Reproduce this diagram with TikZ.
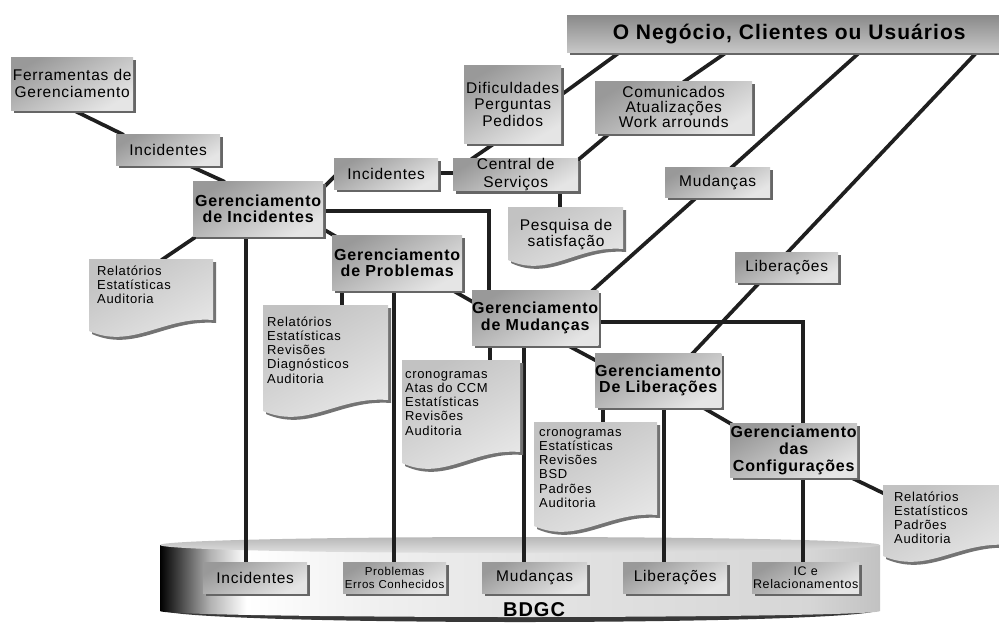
\documentclass[tikz,border=0pt]{standalone}
\usepackage{fontspec}
\setmainfont{Liberation Sans}[LetterSpace=5]
\usetikzlibrary{shadows,calc}
\pgfdeclarelayer{back}\pgfdeclarelayer{mid}\pgfsetlayers{back,mid,main}
\pgfdeclarehorizontalshading{cylside}{100bp}{color(0bp)=(black); color(25bp)=(black); color(26.5bp)=(black!70); color(28.5bp)=(black!30); color(31bp)=(white); color(40bp)=(black!6); color(55bp)=(black!12); color(70bp)=(black!16); color(75bp)=(black!24); color(100bp)=(black!24)}
\newcommand\flab{\fontsize{15.5}{16.5}\selectfont}
\newcommand\fbld{\fontsize{16}{16.5}\selectfont\bfseries}
\newcommand\fsml{\fontsize{11.5}{12.5}\selectfont}
\newcommand\fdoc{\fontsize{13}{14.2}\selectfont}
\newcommand\ftop{\fontsize{21}{22}\selectfont\bfseries}
\newcommand\bx[7][]{\node[box,#1,anchor=north west,minimum width={(#5-#3)*1pt},minimum height={(#6-#4)*1pt}] (#2) at (#3,#4) {#7};}
\newcommand\dc[5]{%
 \begin{scope}[shift={(#2,#3)}]
  \path[docst] (0,0) -- (#4,0) -- (#4,{#5-18}) .. controls ({0.6*#4},{#5-22}) and ({0.35*#4},{#5+12}) .. (0,{#5-7}) -- cycle;
  \node[anch,minimum width={#4*1pt},minimum height={#5*1pt},anchor=north west] (#1) at (0,0) {};
 \end{scope}}
\tikzset{
 box/.style={draw=none, top color=black!40, bottom color=black!10, shading angle=30, drop shadow={shadow xshift=3pt, shadow yshift=-3pt, fill=black!60, opacity=1}, inner sep=0pt, align=center, font=\flab},
 gbox/.style={font=\fbld},
 sbox/.style={font=\fsml},
 topbox/.style={top color=black!46, bottom color=black!22, shading angle=0, font=\ftop},
 docst/.style={top color=black!24, bottom color=black!9, shading angle=30, drop shadow={shadow xshift=3pt,shadow yshift=-3pt,fill=black!55,opacity=1}},
 doctext/.style={inner sep=0pt, align=left, font=\fdoc, anchor=north west},
 conn/.style={line width=3.7pt, draw=black!88, shorten <=-2pt, shorten >=-2pt},
 anch/.style={inner sep=0pt, draw=none},
}
\begin{document}
\begin{tikzpicture}[x=1pt,y=-1pt]
\useasboundingbox (0,0) rectangle (999,625);
% cylinder
\begin{pgfonlayer}{back}
\fill[black!78] (163,610) arc[start angle=180,end angle=0,x radius=357,y radius=12] -- cycle;
\shade[shading=cylside] (160,545) -- (160,611) arc[start angle=180,end angle=0,x radius=360,y radius=6] -- (880,545) -- cycle;
\shade[top color=black!28, bottom color=black!12] (520,545) ellipse[x radius=360, y radius=8];
\end{pgfonlayer}
\node[font=\fontsize{20}{20}\selectfont\bfseries, inner sep=0pt] (bdgc) at (534,610) {BDGC};
% boxes
\bx[topbox]{top}{567}{15}{1011}{52}{O Negócio, Clientes ou Usuários}
\bx{fer}{11}{57}{133}{110}{Ferramentas de\\Gerenciamento}
\bx{incA}{116}{134}{220}{165}{Incidentes}
\bx[gbox]{gi}{193}{181}{323}{236}{Gerenciamento\\de Incidentes}
\bx{incB}{334}{158}{438}{189}{Incidentes}
\bx[font=\fontsize{15.5}{18}\selectfont]{cen}{453}{158}{578}{190}{Central de\\Serviços}
\bx{dif}{464}{65}{561}{143}{Dificuldades\\Perguntas\\Pedidos}
\bx[font=\fontsize{15.5}{15}\selectfont]{com}{595}{81}{752}{133}{Comunicados\\Atualizações\\Work arrounds}
\bx{mudR}{665}{167}{770}{197}{Mudanças}
\bx{libR}{735}{252}{838}{282}{Liberações}
\bx[gbox]{gp}{332}{235}{462}{290}{Gerenciamento\\de Problemas}
\bx[gbox]{gm}{472}{290}{597}{345}{Gerenciamento\\de Mudanças}
\bx[gbox]{gl}{595}{353}{719}{407}{Gerenciamento\\De Liberações}
\bx[gbox,font=\fontsize{16}{17}\selectfont\bfseries]{gc}{730}{423}{857}{477}{Gerenciamento\\das\\Configurações}
\bx{bInc}{203}{562}{307}{593}{Incidentes}
\bx[sbox]{bProb}{343}{562}{446}{593}{Problemas\\Erros Conhecidos}
\bx{bMud}{482}{562}{587}{593}{Mudanças}
\bx{bLib}{623}{562}{727}{593}{Liberações}
\bx[font=\fontsize{12.5}{13}\selectfont]{bIC}{752}{562}{859}{593}{IC e\\Relacionamentos}
% documents
\dc{pesq}{508}{207}{115}{60}
\node[inner sep=0pt, align=center, font=\flab, anchor=north] (pesqT) at (566,216) {\rule{0pt}{14pt}Pesquisa de\\satisfação};
\dc{docL}{89}{259}{124}{79}
\node[doctext] (docLT) at (97,263) {\rule{0pt}{12pt}Relatórios\\Estatísticas\\Auditoria};
\dc{docP}{263}{305}{125}{113}
\node[doctext] (docPT) at (267,314) {\rule{0pt}{12pt}Relatórios\\Estatísticas\\Revisões\\Diagnósticos\\Auditoria};
\dc{docM}{402}{360}{118}{110}
\node[doctext] (docMT) at (405,366) {\rule{0pt}{12pt}cronogramas\\Atas do CCM\\Estatísticas\\Revisões\\Auditoria};
\dc{docLib}{534}{422}{123}{111}
\node[doctext] (docLibT) at (539,424) {\rule{0pt}{12pt}cronogramas\\Estatísticas\\Revisões\\BSD\\Padrões\\Auditoria};
\dc{docC}{883}{485}{125}{78}
\node[doctext] (docCT) at (894,489) {\rule{0pt}{12pt}Relatórios\\Estatísticos\\Padrões\\Auditoria};
% connectors
\begin{pgfonlayer}{mid}
\draw[conn] ($(fer.north west)+(62,53)$) -- ($(incA.north west)+(6,0)$);
\draw[conn] ($(incA.north west)+(72,31)$) -- ($(gi.north west)+(30,0)$);
\draw[conn] ($(gi.north west)+(4,55)$) -- ($(docL.north west)+(74,0)$);
\draw[conn] ($(gi.north west)+(53,55)$) -- ($(bInc.north west)+(43,0)$);
\draw[conn] ($(gi.north west)+(130,7)$) -- ($(incB.north west)+(0,19)$);
\draw[conn] ($(gi.north west)+(130,30)$) -| ($(gm.north west)+(17,0)$);
\draw[conn] ($(gi.north west)+(130,48)$) -- ($(gp.north west)+(3,1)$);
\draw[conn] ($(incB.north west)+(104,15)$) -- ($(cen.north west)+(0,15)$);
\draw[conn] ($(cen.north west)+(20,0)$) -- ($(dif.north west)+(31,78)$);
\draw[conn] ($(dif.north west)+(97,30)$) -- ($(top.north west)+(53,37)$);
\draw[conn] ($(cen.north west)+(125,2)$) -- ($(com.north west)+(15,52)$);
\draw[conn] ($(com.north west)+(90,0)$) -- ($(top.north west)+(160,37)$);
\draw[conn] ($(cen.north west)+(107,32)$) -- ($(pesq.north west)+(52,0)$);
\draw[conn] ($(top.north west)+(293,37)$) -- ($(mudR.north west)+(67,0)$);
\draw[conn] ($(mudR.north west)+(32,30)$) -- ($(gm.north west)+(121,0)$);
\draw[conn] ($(top.north west)+(410,37)$) -- ($(libR.north west)+(53,0)$);
\draw[conn] ($(libR.north west)+(25,30)$) -- ($(gl.north west)+(98,0)$);
\draw[conn] ($(gp.north west)+(10,55)$) -- ($(docP.north west)+(79,0)$);
\draw[conn] ($(gp.north west)+(62,55)$) -- ($(bProb.north west)+(51,0)$);
\draw[conn] ($(gp.north west)+(120,55)$) -- ($(gm.north west)+(1,12)$);
\draw[conn] ($(gm.north west)+(18,55)$) -- ($(docM.north west)+(88,0)$);
\draw[conn] ($(gm.north west)+(52,55)$) -- ($(bMud.north west)+(42,0)$);
\draw[conn] ($(gm.north west)+(125,32)$) -| ($(gc.north west)+(73,0)$);
\draw[conn] ($(gc.north west)+(73,54)$) -- ($(bIC.north west)+(51,0)$);
\draw[conn] ($(gm.north west)+(95,55)$) -- ($(gl.north west)+(0,7)$);
\draw[conn] ($(gl.north west)+(8,54)$) -- ($(docLib.north west)+(69,0)$);
\draw[conn] ($(gl.north west)+(69,54)$) -- ($(bLib.north west)+(41,0)$);
\draw[conn] ($(gl.north west)+(107,54)$) -- ($(gc.north west)+(3,2)$);
\draw[conn] ($(gc.north west)+(120,54)$) -- ($(docC.north west)+(0,8)$);
\end{pgfonlayer}
\end{tikzpicture}
\end{document}
